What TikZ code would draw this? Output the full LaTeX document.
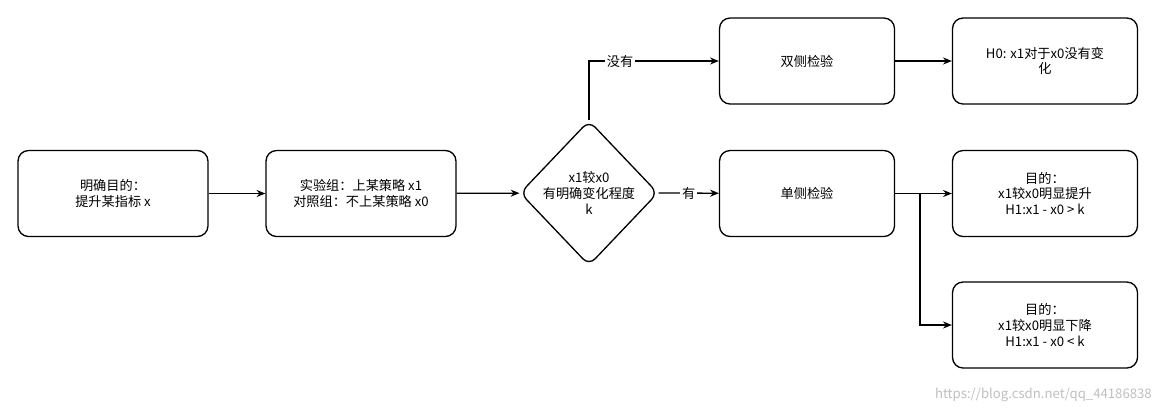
\documentclass[tikz,border=0pt]{standalone}
\usepackage{fontspec}
\setmainfont{Noto Sans CJK SC}
\usetikzlibrary{shapes.geometric,arrows.meta}
\begin{document}
\begin{tikzpicture}[x=0.02cm,y=-0.02cm,
  box/.style={draw,rounded corners=6pt,line width=0.75pt,minimum width=3.7cm,minimum height=1.72cm,align=center,font=\fontsize{7.5}{9}\selectfont},
  arr/.style={-{Stealth[length=5pt,width=4pt]},line width=0.75pt},
  lbl/.style={fill=white,inner sep=1pt,font=\fontsize{7.5}{9}\selectfont}]
\useasboundingbox (0,0) rectangle (1164,414);
\node[box,minimum width=3.8cm] (a) at (113,193.5) {明确目的：\\提升某指标 x};
\node[box,minimum width=3.8cm] (b) at (361,193.5) {实验组：上某策略 x1\\对照组：不上某策略 x0};
\node[draw,diamond,line width=0.75pt,rounded corners=5pt,minimum width=2.76cm,minimum height=2.9cm,inner sep=0pt] (d) at (589,193) {};
\node[align=center,font=\fontsize{7.5}{9}\selectfont] at (d.center) {x1较x0\\有明确变化程度\\k};
\node[box,minimum width=3.5cm] (c) at (807,61) {双侧检验};
\node[box,minimum width=3.5cm] (s) at (807,193.5) {单侧检验};
\node[box] (e) at (1045,61) {H0: x1对于x0没有变\\化};
\node[box] (f) at (1045,193.5) {目的：\\x1较x0明显提升\\H1:x1 - x0 > k};
\node[box] (g) at (1045,325) {目的：\\x1较x0明显下降\\H1:x1 - x0 < k};
\draw[arr] (a) -- (b);
\draw[arr] (b) -- (d);
\draw[arr] (d.north) |- node[lbl,pos=0.62]{没有} (c);
\draw[arr] (d.east) -- node[lbl]{有} (s);
\draw[arr] (c) -- (e);
\draw[arr] (s) -- (f);
\coordinate (j) at (920,193.5);
\draw[arr] (j) |- (g);
\node[text=black!25,font=\fontsize{7.5}{9}\selectfont,anchor=south east] (w) at (1158,408) {https://blog.csdn.net/qq\_44186838};
\end{tikzpicture}
\end{document}
